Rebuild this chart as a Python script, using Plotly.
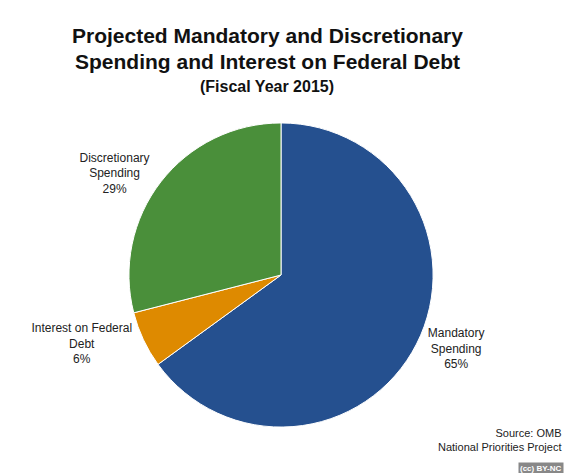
import plotly.graph_objects as go

labels = ["Mandatory<br>Spending", "Interest on Federal<br>Debt", "Discretionary<br>Spending"]
values = [65, 6, 29]
colors = ["#25508f", "#de8a00", "#4a8f3a"]

F = "Liberation Sans, Arial"
fig = go.Figure(go.Pie(
    labels=labels, values=values, sort=False, direction="clockwise", rotation=0,
    marker=dict(colors=colors, line=dict(color="white", width=1)),
    texttemplate="%{label}<br>%{percent:.0%}",
    textposition="outside", textfont=dict(family=F, size=12, color="#222"),
    domain=dict(x=[0.21, 0.738], y=[0.114, 0.757]), showlegend=False, hoverinfo="label+percent",
))
fig.update_layout(
    width=576, height=473, margin=dict(l=0, r=0, t=0, b=0), paper_bgcolor="white",
    annotations=[
        dict(text="<b>Projected Mandatory and Discretionary</b>", x=0.45, y=1-14/473, xref="paper", yref="paper",
             xanchor="center", yanchor="top", showarrow=False, font=dict(family=F, size=21, color="#111")),
        dict(text="<b>Spending and Interest on Federal Debt</b>", x=0.45, y=1-40/473, xref="paper", yref="paper",
             xanchor="center", yanchor="top", showarrow=False, font=dict(family=F, size=21, color="#111")),
        dict(text="<b>(Fiscal Year 2015)</b>", x=0.45, y=1-68/473, xref="paper", yref="paper",
             xanchor="center", yanchor="top", showarrow=False, font=dict(family=F, size=16, color="#111")),
        dict(text="Source: OMB<br>National Priorities Project", x=0.965, y=0.055, xref="paper", yref="paper",
             xanchor="right", yanchor="bottom", showarrow=False, align="right",
             font=dict(family=F, size=11, color="#222")),
        dict(text="<b>(cc) BY-NC</b>", x=0.965, y=0.012, xref="paper", yref="paper",
             xanchor="right", yanchor="bottom", showarrow=False, bgcolor="#888",
             font=dict(family=F, size=8, color="white"))],
)
fig.write_html("out.html")
